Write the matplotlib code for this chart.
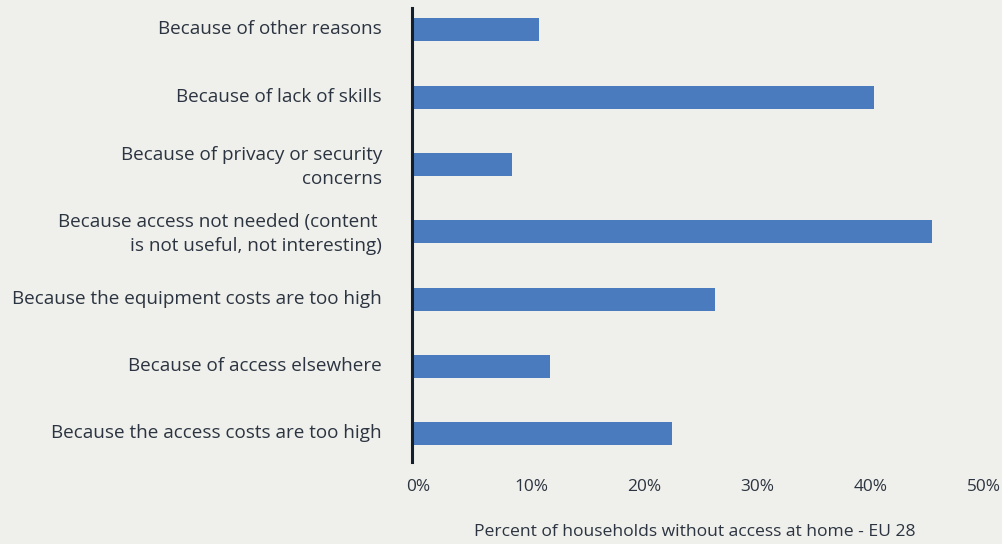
import matplotlib
matplotlib.use("Agg")
import matplotlib.pyplot as plt
import matplotlib.transforms as mtransforms

# Reasons for not having internet access at home, EU 28 (share of households)
reasons = [
    "Because the access costs are too high",
    "Because of access elsewhere",
    "Because the equipment costs are too high",
    "Because access not needed (content \nis not useful, not interesting)",
    "Because of privacy or security\nconcerns",
    "Because of lack of skills",
    "Because of other reasons",
]
shares = [23.0, 12.2, 26.8, 46.0, 8.9, 40.8, 11.2]
tick_values = [0, 10, 20, 30, 40, 50]
tick_labels = ["0%", "10%", "20%", "30%", "40%", "50%"]
x_title = "Percent of households without access at home - EU 28"

bg = "#efefeb"
bar_color = "#497bbe"
text_color = "#2b3440"
axis_color = "#141f2e"

plt.rcParams["font.family"] = ["Open Sans", "DejaVu Sans"]

fig = plt.figure(figsize=(10.03, 5.44), dpi=100, facecolor=bg)
ax = fig.add_axes([0.4105, 0.1507, 0.5643, 0.8339], facecolor=bg)

ypos = list(range(len(reasons)))
ax.barh(ypos, shares, height=0.34, color=bar_color, zorder=2)

ax.set_xlim(0, 50)
ax.set_ylim(-0.42, len(reasons) - 1 + 0.32)

ax.set_yticks(ypos)
ax.set_yticklabels(reasons, fontsize=13.6, color=text_color,
                   linespacing=1.42, ha="right", multialignment="right")
ax.tick_params(axis="y", length=0, pad=21.4)
lift = mtransforms.ScaledTranslation(0, 2.5 / 100, fig.dpi_scale_trans)
for lbl in ax.get_yticklabels():
    lbl.set_transform(lbl.get_transform() + lift)

ax.set_xticks(tick_values)
ax.set_xticklabels(tick_labels, fontsize=12.4, color=text_color)
ax.tick_params(axis="x", length=0, pad=12.2)
shift = mtransforms.ScaledTranslation(6 / 100, 0, fig.dpi_scale_trans)
for lbl in ax.get_xticklabels():
    lbl.set_transform(lbl.get_transform() + shift)

ax.set_xlabel(x_title, fontsize=12.6, color=text_color, labelpad=21)

for side in ("top", "right", "bottom"):
    ax.spines[side].set_visible(False)
ax.spines["left"].set_color(axis_color)
ax.spines["left"].set_linewidth(2.2)
ax.spines["left"].set_zorder(3)

fig.savefig("out.png", dpi=100, facecolor=bg)
